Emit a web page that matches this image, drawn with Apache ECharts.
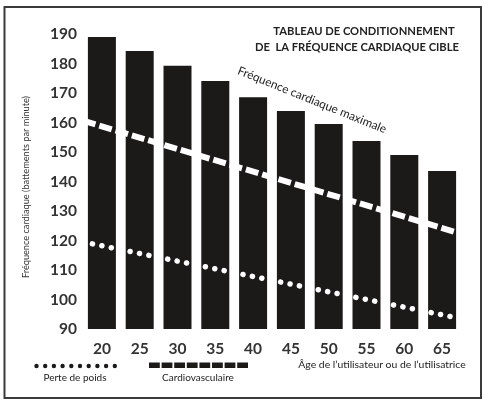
<!DOCTYPE html>
<html>
<head>
<meta charset="utf-8">
<script src="https://cdn.jsdelivr.net/npm/echarts@6/dist/echarts.min.js"></script>
<style>
html,body{margin:0;padding:0;background:#fff;}
#chart{width:484px;height:401px;}
</style>
</head>
<body>
<div id="chart"></div>
<script>
// Data
var ages = ['20', '25', '30', '35', '40', '45', '50', '55', '60', '65'];
var maxHeartRate = [189, 184.2, 179.2, 174.1, 168.6, 163.9, 159.5, 153.7, 149, 143.6];
// "Cardiovasculaire" zone line (dashed) : [age, bpm] endpoints
var cardioLine = [[17.5, 160.6], [67.5, 122.3]];
// "Perte de poids" zone line (dotted) : [age, bpm] endpoints
var weightLossLine = [[17.5, 119.5], [67.5, 93.5]];
var yTicks = { min: 90, max: 190, interval: 10 };

var FONT = 'Lato, "Noto Sans", sans-serif';

var chart = echarts.init(document.getElementById('chart'), null, { renderer: 'canvas' });

var legendGraphics = [];
for (var i = 0; i < 10; i++) {
  legendGraphics.push({ type: 'circle', shape: { cx: 36.5 + i * 8.7, cy: 366, r: 2.2 }, style: { fill: '#1c1919' } });
}
for (var j = 0; j < 8; j++) {
  legendGraphics.push({ type: 'rect', shape: { x: 149 + j * 12.6, y: 362.5, width: 10.8, height: 5.5 }, style: { fill: '#1c1919' } });
}

chart.setOption({
  animation: false,
  backgroundColor: '#fff',
  grid: { left: 83, right: 23, top: 34, bottom: 72 },
  xAxis: [
    {
      type: 'category',
      data: ages,
      axisLine: { show: false },
      axisTick: { show: false },
      axisLabel: { color: '#333', fontSize: 15.5, fontWeight: 'bold', fontFamily: FONT, margin: 12 }
    },
    { type: 'value', min: 17.5, max: 67.5, show: false }
  ],
  yAxis: {
    type: 'value',
    min: yTicks.min, max: yTicks.max, interval: yTicks.interval,
    axisLine: { show: false },
    axisTick: { show: false },
    splitLine: { show: false },
    axisLabel: { color: '#333', fontSize: 15.5, fontWeight: 'bold', fontFamily: FONT, margin: 6 }
  },
  series: [
    {
      type: 'bar',
      data: maxHeartRate,
      barWidth: 28,
      itemStyle: { color: '#1c1919' }
    },
    {
      type: 'line',
      xAxisIndex: 1,
      data: cardioLine,
      showSymbol: false,
      lineStyle: { color: '#fff', width: 6, type: [13, 4] },
      z: 5
    },
    {
      type: 'line',
      xAxisIndex: 1,
      data: weightLossLine,
      showSymbol: false,
      lineStyle: { color: '#fff', width: 5.5, type: [0.1, 9.5], cap: 'round' },
      z: 5
    }
  ],
  graphic: [
    { type: 'rect', shape: { x: 4.5, y: 7, width: 476.5, height: 391 }, style: { fill: 'none', stroke: '#3a3a3a', lineWidth: 2 }, z: 10 },
    { type: 'text', x: 364, y: 31, style: { text: 'TABLEAU DE CONDITIONNEMENT', fill: '#222', font: 'bold 11.2px ' + FONT, textAlign: 'center', textVerticalAlign: 'middle' } },
    { type: 'text', x: 357, y: 47, style: { text: 'DE  LA FRÉQUENCE CARDIAQUE CIBLE', fill: '#222', font: 'bold 11.2px ' + FONT, textAlign: 'center', textVerticalAlign: 'middle' } },
    { type: 'text', x: 312, y: 100, rotation: -22 * Math.PI / 180, style: { text: 'Fréquence cardiaque maximale', fill: '#222', font: '11.8px ' + FONT, textAlign: 'center', textVerticalAlign: 'middle' } },
    { type: 'text', x: 26, y: 187, rotation: Math.PI / 2, style: { text: 'Fréquence cardiaque (battements par minute)', fill: '#333', font: '9.2px ' + FONT, textAlign: 'center', textVerticalAlign: 'middle' } },
    { type: 'text', x: 75, y: 378, style: { text: 'Perte de poids', fill: '#222', font: '10px ' + FONT, textAlign: 'center', textVerticalAlign: 'middle' } },
    { type: 'text', x: 198, y: 378, style: { text: 'Cardiovasculaire', fill: '#222', font: '10px ' + FONT, textAlign: 'center', textVerticalAlign: 'middle' } },
    { type: 'text', x: 382, y: 365, style: { text: 'Âge de l\u2019utilisateur ou de l\u2019utilisatrice', fill: '#222', font: '10.4px ' + FONT, textAlign: 'center', textVerticalAlign: 'middle' } },
    { type: 'group', children: legendGraphics }
  ]
});
</script>
</body>
</html>
